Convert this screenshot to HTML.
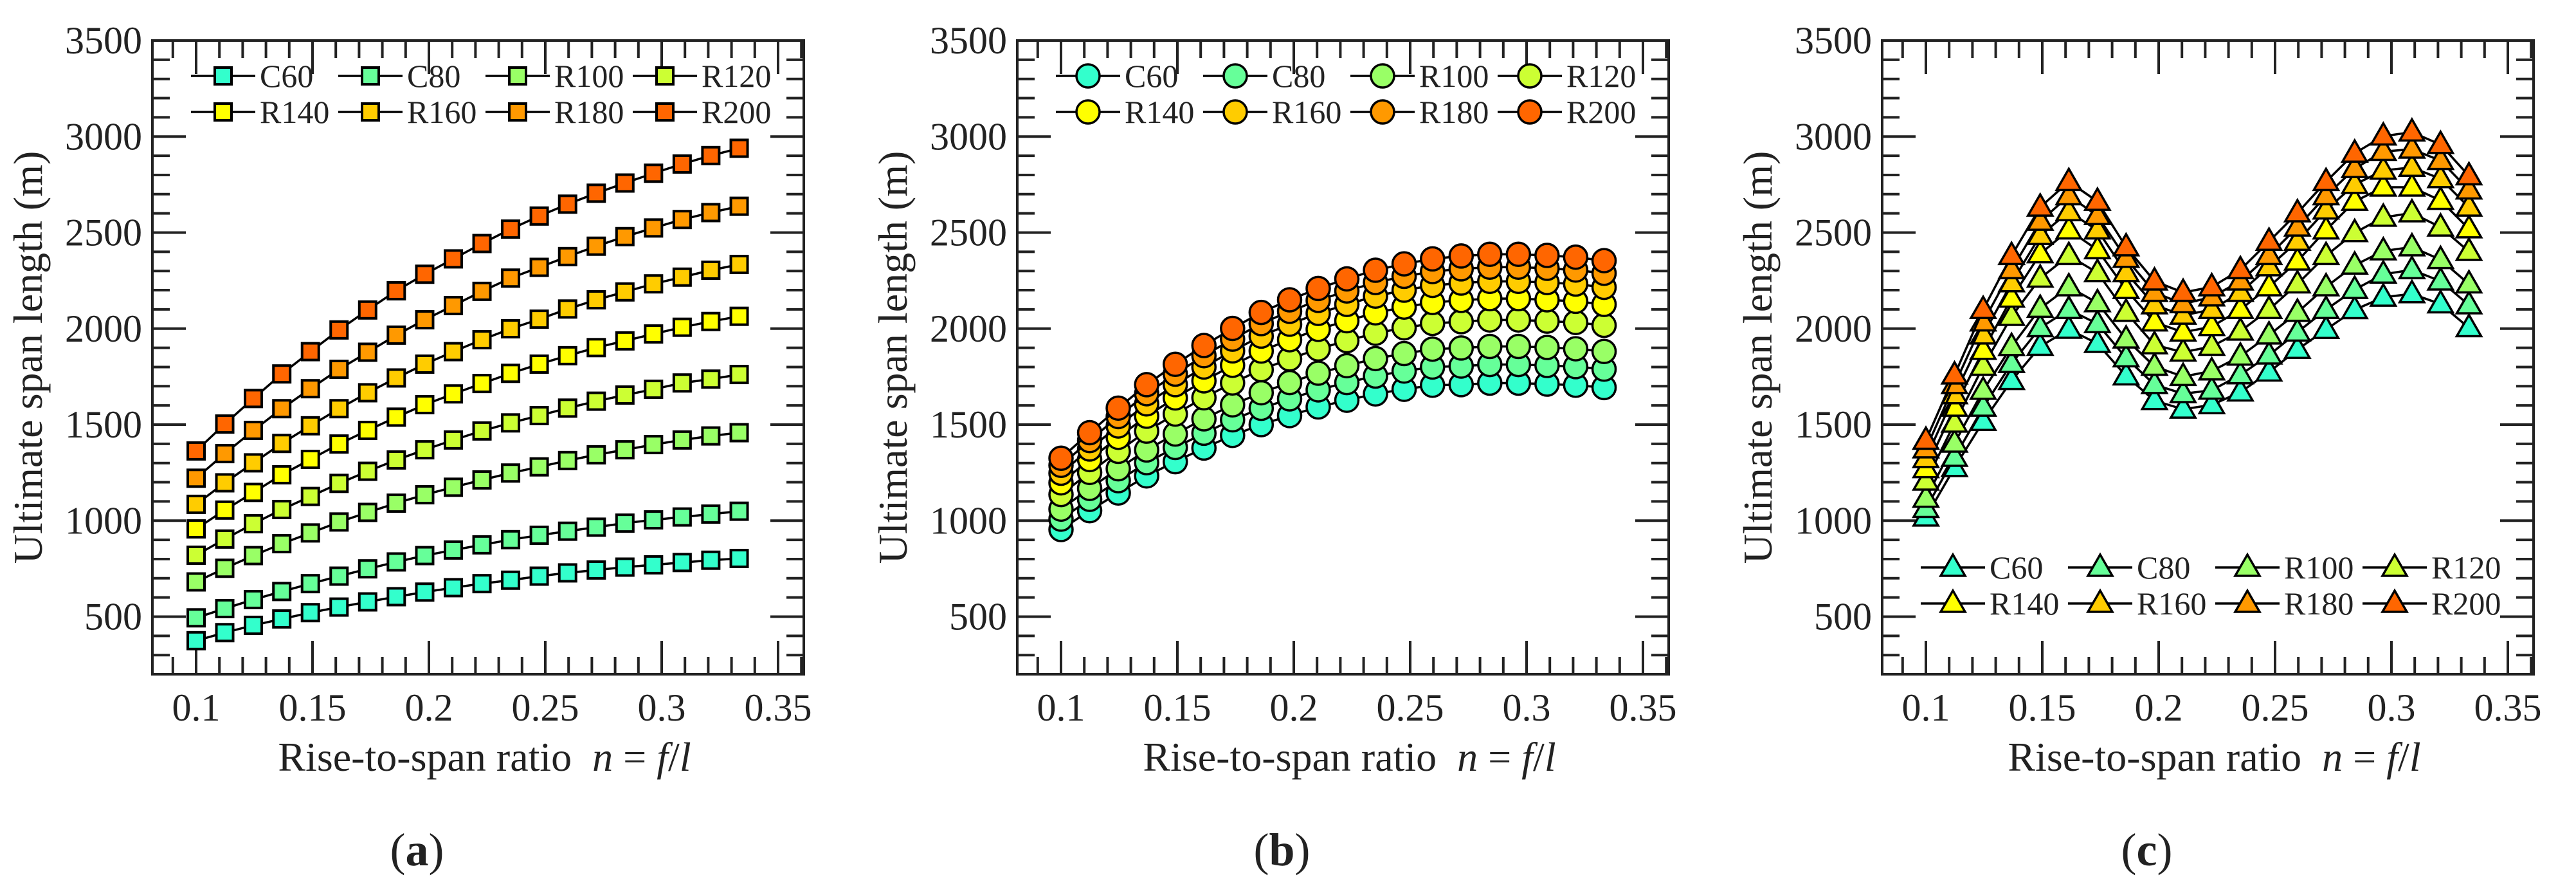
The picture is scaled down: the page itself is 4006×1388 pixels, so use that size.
<!DOCTYPE html>
<html><head><meta charset="utf-8"><style>
html,body{margin:0;padding:0;background:#fff;}
svg{display:block;}
svg text{font-family:"Liberation Serif","DejaVu Serif",serif;}
</style></head>
<body>
<svg id="fig" width="4006" height="1388" viewBox="0 0 4006 1388" xmlns="http://www.w3.org/2000/svg" font-family="Liberation Serif, serif"></svg>
<script>
const ratios = [0.1,0.1123,0.1246,0.1368,0.1491,0.1614,0.1737,0.1860,0.1982,0.2105,0.2228,0.2351,0.2474,0.2596,0.2719,0.2842,0.2965,0.3088,0.3211,0.3333];
const seriesNames = ["C60","C80","R100","R120","R140","R160","R180","R200"];
const xTickLabels = ["0.1","0.15","0.2","0.25","0.3","0.35"];
const xTickValues = [0.1,0.15,0.2,0.25,0.3,0.35];
const yTickValues = [500,1000,1500,2000,2500,3000,3500];
const yTickLabels = ["500","1000","1500","2000","2500","3000","3500"];

const aC60 = [375,417,455,488,521,550,577,604,628,651,672,690,711,728,743,758,770,782,794,803];
const aC80 = [494,542,589,631,672,711,749,785,818,847,874,901,924,945,966,987,1004,1019,1034,1049];
const aR100 = [681,752,818,880,936,993,1043,1091,1135,1174,1212,1248,1280,1313,1343,1369,1396,1420,1441,1458];
const aR120 = [820,904,984,1058,1126,1194,1257,1316,1369,1420,1467,1509,1547,1586,1622,1654,1684,1717,1737,1761];
const aR140 = [957,1055,1147,1239,1319,1399,1470,1539,1604,1660,1714,1767,1815,1859,1901,1936,1972,2007,2037,2064];
const aR160 = [1085,1197,1301,1402,1494,1583,1666,1743,1815,1880,1942,1999,2049,2102,2150,2191,2233,2268,2304,2334];
const aR180 = [1221,1349,1470,1583,1687,1788,1877,1966,2046,2120,2194,2263,2319,2375,2429,2479,2524,2568,2604,2637];
const aR200 = [1363,1503,1636,1764,1880,1993,2097,2197,2283,2363,2443,2518,2586,2648,2705,2758,2809,2857,2901,2939];

const bC60 = [954,1052,1144,1233,1307,1378,1444,1500,1547,1592,1627,1660,1684,1705,1708,1716,1716,1711,1705,1693];
const bC80 = [1008,1111,1208,1302,1381,1455,1525,1585,1634,1681,1719,1753,1779,1800,1805,1813,1813,1808,1802,1789];
const bR100 = [1060,1168,1270,1368,1451,1530,1603,1666,1719,1768,1807,1844,1870,1893,1899,1907,1907,1902,1895,1881];
const bR120 = [1136,1251,1361,1466,1555,1640,1717,1786,1842,1894,1937,1976,2004,2027,2036,2045,2045,2039,2032,2017];
const bR140 = [1197,1318,1434,1544,1639,1728,1809,1883,1942,1996,2041,2082,2112,2136,2147,2156,2156,2150,2142,2126];
const bR160 = [1247,1373,1493,1608,1708,1800,1884,1961,2023,2079,2126,2169,2200,2225,2237,2246,2246,2240,2232,2215];
const bR180 = [1288,1417,1542,1661,1763,1859,1945,2026,2090,2147,2196,2240,2272,2297,2311,2320,2320,2314,2305,2288];
const bR200 = [1325,1458,1586,1708,1814,1912,2001,2084,2150,2209,2259,2304,2337,2363,2378,2387,2387,2381,2372,2354];

const cC60 = [1018,1276,1516,1729,1907,1996,1922,1753,1625,1580,1603,1669,1773,1891,1995,2098,2163,2181,2128,2004];
const cC80 = [1063,1329,1590,1818,2004,2099,2025,1847,1708,1661,1679,1759,1862,1981,2099,2203,2283,2306,2247,2123];
const cR100 = [1116,1403,1678,1906,2105,2217,2134,1945,1803,1750,1779,1856,1966,2084,2217,2330,2404,2425,2359,2232];
const cR120 = [1205,1507,1803,2063,2262,2380,2291,2084,1915,1877,1907,1986,2099,2232,2380,2499,2579,2602,2528,2401];
const cR140 = [1270,1590,1886,2158,2389,2513,2410,2203,2034,1981,2010,2099,2217,2351,2513,2662,2736,2736,2667,2519];
const cR160 = [1323,1655,1966,2238,2484,2608,2513,2291,2123,2069,2099,2188,2321,2454,2617,2750,2824,2839,2780,2632];
const cR180 = [1373,1708,2034,2306,2558,2691,2588,2365,2188,2129,2164,2247,2380,2528,2691,2833,2922,2934,2875,2721];
const cR200 = [1418,1758,2099,2380,2632,2765,2662,2425,2247,2188,2217,2306,2454,2602,2765,2913,3002,3023,2958,2795];

const colors = ["#33ffcc","#66ff99","#99ff66","#ccff33","#ffff00","#ffcc00","#ff9900","#ff6600"];
const NS = "http://www.w3.org/2000/svg";
const svg = document.getElementById("fig");
const FONT = "'Liberation Serif', serif";
function mk(tag, attrs, parent){const e=document.createElementNS(NS,tag);for(const k in attrs)e.setAttribute(k,attrs[k]);if(tag==="text")e.setAttribute("font-family",FONT);(parent||svg).appendChild(e);return e;}

const PW = 1013, TOP = 63, BOT = 1048;
function xs(left, v){return left + 68 + (v - 0.1) * 3620;}
function ys(v){return TOP + (3500 - v) * 0.2985;}

function marker(g, type, cx, cy, fill){
  let e;
  if(type==="square"){e=mk("rect",{x:cx-13,y:cy-13,width:26,height:26,fill:fill,stroke:"#000","stroke-width":4},g);}
  else if(type==="circle"){e=mk("circle",{cx:cx,cy:cy,r:18,fill:fill,stroke:"#000","stroke-width":3.5},g);}
  else {e=mk("polygon",{points:`${cx},${cy-20} ${cx+19},${cy+13} ${cx-19},${cy+13}`,fill:fill,stroke:"#000","stroke-width":3.5,"stroke-linejoin":"miter"},g);}
  return e;
}

function panel(left, key, series, type, legendY, label){
  const g = mk("g",{});
  
  
  const right = left + PW;
  const tg = mk("g",{stroke:"#222","stroke-width":4},g);
  
  
  for(let k=9;k<=36;k++){
    const v=k/100, x=xs(left,v);
    if(x<=left+2||x>=right-2) continue;
    const L=(k%5===0)?52:27;
    mk("line",{x1:x,y1:BOT,x2:x,y2:BOT-L},tg);
    mk("line",{x1:x,y1:TOP,x2:x,y2:TOP+L},tg);
  }
  for(let v=300;v<=3400;v+=100){
    const y=ys(v), L=(v%500===0)?52:27;
    mk("line",{x1:left,y1:y,x2:left+L,y2:y},tg);
    mk("line",{x1:right,y1:y,x2:right-L,y2:y},tg);
  }
  const box = mk("rect",{x:left,y:TOP,width:PW,height:BOT-TOP,fill:"none",stroke:"#222","stroke-width":4},g);
  
  
  xTickValues.forEach((v,i)=>{
    const t=mk("text",{x:xs(left,v),y:1120,"font-size":60,"text-anchor":"middle",fill:"#222"},g);
    t.textContent=xTickLabels[i];
    
    
  });
  yTickValues.forEach((v,i)=>{
    const t=mk("text",{x:left-16,y:ys(v)+20,"font-size":60,"text-anchor":"end",fill:"#222"},g);
    t.textContent=yTickLabels[i];
    
    
  });
  const yt=mk("text",{x:0,y:0,"font-size":64,"text-anchor":"middle",fill:"#222",transform:`translate(${left-172},${(TOP+BOT)/2}) rotate(-90)`},g);
  yt.textContent="Ultimate span length (m)";
  
  
  const xt=mk("text",{x:left+PW/2+10,y:1198,"font-size":64,"text-anchor":"middle",fill:"#222"},g);
  xt.innerHTML='Rise-to-span ratio\u00a0\u00a0<tspan font-style="italic">n</tspan> = <tspan font-style="italic">f</tspan>/<tspan font-style="italic">l</tspan>';
  
  
  const pl=mk("text",{x:left+PW/2-95,y:1345,"font-size":72,"text-anchor":"middle",fill:"#222"},g);
  pl.innerHTML='(<tspan font-weight="bold">'+label+'</tspan>)';
  
  
  series.forEach((vals,si)=>{
    const sg=mk("g",{},g);
    
    
    const pts=vals.map((v,i)=>xs(left,ratios[i])+","+ys(v)).join(" ");
    const ln=mk("polyline",{points:pts,fill:"none",stroke:"#000","stroke-width":3.5},sg);
    
    
    vals.forEach((v,i)=>{
      const m=marker(sg,type,xs(left,ratios[i]),ys(v),colors[si]);
      
      
    });
  });
  const lg=mk("g",{},g);
  
  
  seriesNames.forEach((nm,si)=>{
    const col=si%4, row=Math.floor(si/4);
    const x0=left+60+col*229, y0=legendY+row*56;
    const eg=mk("g",{},lg);
    
    
    mk("line",{x1:x0,y1:y0,x2:x0+100,y2:y0,stroke:"#000","stroke-width":3.5},eg);
    marker(eg,type,x0+50,y0,colors[si]);
    const t=mk("text",{x:x0+107,y:y0+17,"font-size":50,fill:"#222"},eg);
    t.textContent=nm;
  });
}

panel(237,"a",[aC60,aC80,aR100,aR120,aR140,aR160,aR180,aR200],"square",118,"a");
panel(1582,"b",[bC60,bC80,bR100,bR120,bR140,bR160,bR180,bR200],"circle",118,"b");
panel(2927,"c",[cC60,cC80,cR100,cR120,cR140,cR160,cR180,cR200],"triangle",882,"c");
</script>
</body></html>
